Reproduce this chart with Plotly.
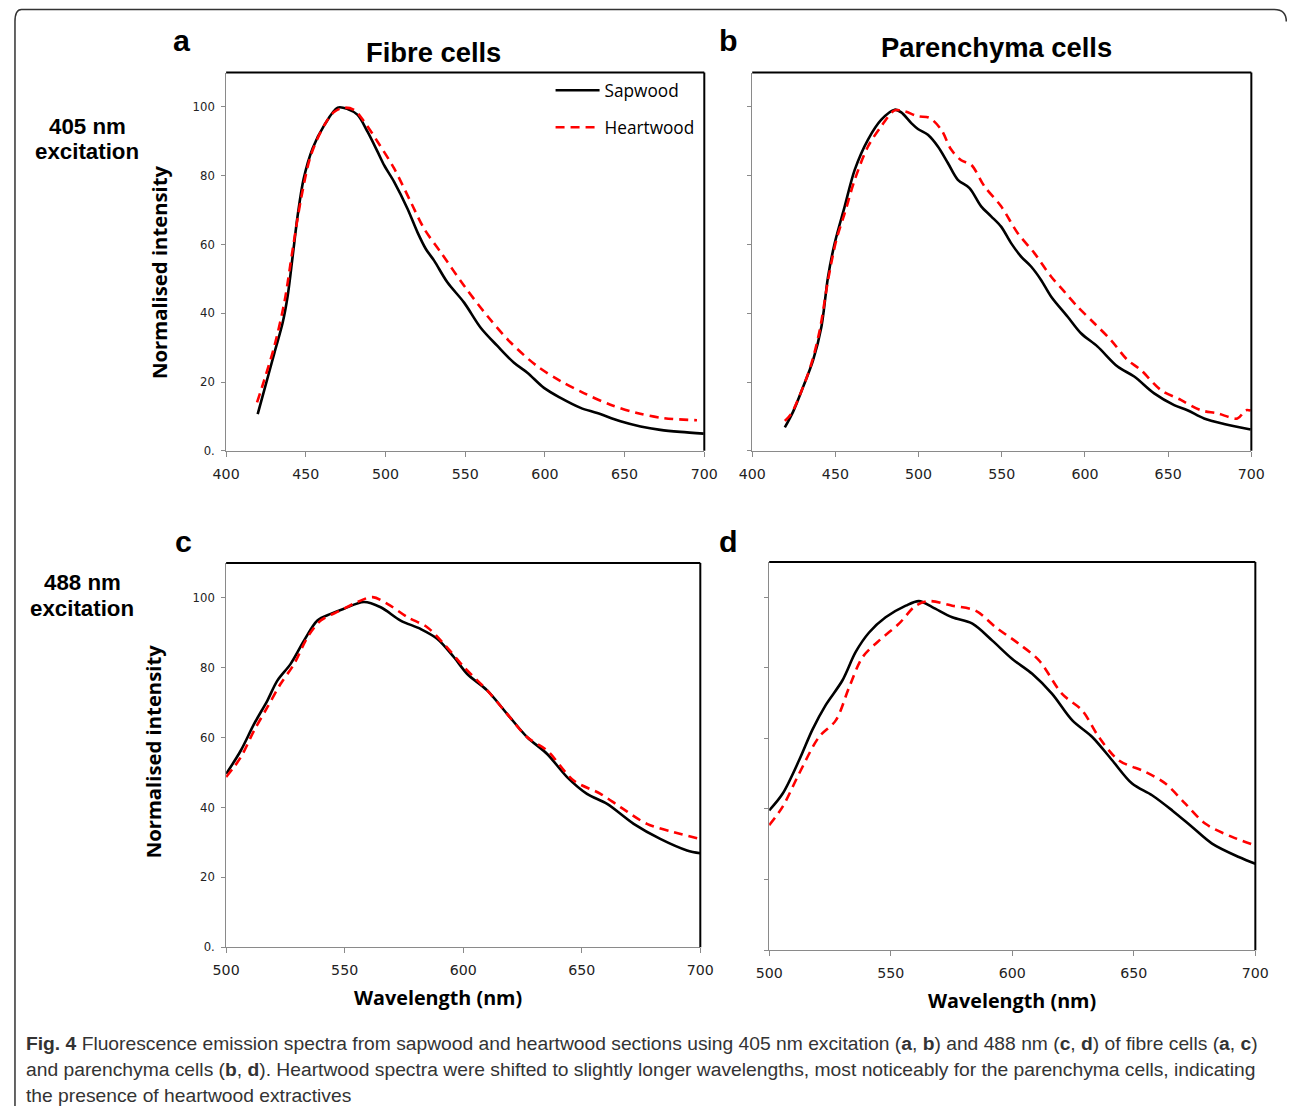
import plotly.graph_objects as go

W, H = 1290, 1113

# ---------------- data ----------------
# Panel a: 405 nm excitation, fibre cells
a_sap_wl = [419.8, 424, 430.3, 435.5, 438.6, 441.8, 444.9, 448.6, 454.3, 461.6, 470, 476.2, 482.5, 488.7, 495,
            499.2, 505.4, 513.8, 520, 525.3, 530.5, 538.8, 549.3, 559.7, 570.2, 580.6, 589, 599.4, 609.8, 622.4,
            632.8, 647.4, 660, 672.4, 685, 699.6]
a_sap_int = [10.7, 17.8, 28.5, 37.3, 45, 56.8, 68.5, 79, 88, 94.7, 99.8, 99.4, 97.7, 92.8, 87,
             83, 78.2, 70.4, 63.6, 58.7, 55.3, 49, 43.1, 35.8, 30.5, 25.6, 22.7, 18.3, 15.4, 12.5,
             11, 8.6, 7.1, 6.1, 5.5, 5.0]
a_hw_wl = [419.4, 424, 430.3, 436.5, 441.8, 447, 453.2, 461.6, 467.9, 474.1, 480.4, 486.6, 495, 505.4, 515.9,
           524.2, 534.7, 549.3, 563.9, 578.5, 595.2, 609.8, 624.4, 641.1, 657.8, 674.5, 695.4]
a_hw_int = [14.1, 20.7, 30.5, 43.1, 58.7, 73.3, 86, 94.7, 98.6, 99.8, 99.1, 95.7, 89.9, 82.1, 72.3,
            64.6, 57.7, 48, 39.2, 31.5, 24.6, 20.3, 16.8, 13.4, 11, 9.5, 8.9]

# Panel b: 405 nm excitation, parenchyma cells
b_sap_wl = [419.6, 424.6, 430.6, 436.6, 441.6, 445.6, 449.6, 455.6, 461.6, 469.6, 477.6, 485.6, 489.6, 495.6,
            499.6, 505.6, 511.6, 517.6, 523.6, 530.6, 537.6, 543.6, 549.6, 555.6, 561.6, 567.6, 573.6, 579.6,
            589.6, 597.6, 607.6, 619.6, 629.6, 641.6, 653.6, 661.6, 671.6, 683.6, 699.6]
b_sap_int = [6.8, 11.4, 18.6, 26.4, 36.1, 50.7, 60.4, 71.1, 81.7, 90.5, 96.3, 99.2, 98.4, 95.3,
             93.6, 91.9, 88.5, 83.7, 78.8, 76.4, 71.1, 68.2, 65.2, 60.4, 56.5, 53.6, 49.7, 44.9,
             39, 34.2, 30.3, 24.5, 21.6, 16.7, 13.3, 11.8, 9.4, 7.8, 6.2]
b_hw_wl = [419.6, 423.6, 430.6, 435.6, 440.6, 445.6, 450.6, 455.6, 461.6, 469.6, 477.6, 485.6, 491.6, 499.6,
           506.6, 513.6, 519.6, 525.6, 531.6, 539.6, 549.6, 559.6, 569.6, 579.6, 587.6, 595.6, 605.6, 615.6,
           625.6, 633.6, 645.6, 657.6, 669.6, 679.6, 691.6, 696.6, 699.6]
b_hw_int = [8.7, 10.9, 18.6, 25.4, 35.1, 49.7, 61.4, 69.1, 78.8, 88.5, 94.4, 99, 98.7, 97.3,
            96.8, 93.4, 87.6, 84.5, 83.2, 76.9, 71.1, 63.3, 57.5, 50.7, 46.3, 41.9, 37.1, 32.2,
            26.4, 23.5, 17.7, 14.8, 11.8, 10.9, 9.4, 11.8, 11.7]

# Panel c: 488 nm excitation, fibre cells
c_sap_wl = [500, 506.2, 511.8, 517.4, 521.6, 527.2, 532.9, 538.5, 544.1, 549.7, 558.1, 565.2, 573.6, 582,
            589, 596.1, 601.7, 610.1, 618.5, 627, 635.4, 643.8, 652.2, 660.7, 671.9, 683.1, 694.4, 700]
c_sap_int = [49.6, 56.3, 63.9, 70.6, 76.3, 81.1, 87.8, 93.5, 95.4, 96.9, 98.8, 97.3, 93.5, 91.1,
             88.3, 83, 78.2, 73.5, 66.8, 60.1, 55.3, 48.7, 43.9, 41, 35.3, 31, 27.7, 26.9]
c_hw_wl = [500, 506.2, 511.8, 517.4, 523, 528.7, 534.3, 539.9, 548.3, 555.3, 561.8, 568, 576.4, 584.8,
           591.9, 600.3, 610.1, 618.5, 627, 635.4, 646.6, 657.9, 666.3, 677.5, 688.8, 700]
c_hw_int = [48.7, 54.4, 62, 68.7, 75.4, 81.1, 88.7, 93.5, 96.4, 98.8, 100.2, 98.3, 94.5, 91.6,
            86.8, 80.2, 73.5, 66.8, 60.1, 56.3, 47.7, 43.9, 40.1, 35.3, 32.9, 31]

# Panel d: 488 nm excitation, parenchyma cells
d_sap_wl = [500, 505.5, 512.3, 517.8, 523.3, 530.1, 535.6, 541.1, 547.9, 556.2, 561.6, 567.1, 575.3, 583.6,
            591.8, 600, 608.2, 616.4, 624.7, 632.9, 641.1, 649.3, 657.5, 665.8, 674, 682.2, 693.2, 700]
d_sap_int = [39.6, 44.3, 53.8, 62.5, 69.5, 76.4, 84.5, 90.0, 94.3, 97.6, 98.9, 97.2, 94.3, 92.5,
             87.7, 82.5, 78.3, 72.6, 65.1, 60.4, 53.8, 47.2, 43.9, 39.6, 34.9, 30.2, 26.4, 24.5]
d_hw_wl = [500, 505.5, 512.3, 520.5, 527.4, 532.9, 538.4, 545.2, 553.4, 560.3, 565.8, 575.3, 584.9, 593.2,
           602.7, 611, 620.5, 628.8, 635.6, 643.8, 654.8, 663, 671.2, 679.5, 690.4, 700]
d_hw_int = [35.4, 40.6, 50, 60.4, 65.1, 74.5, 83, 87.7, 92.5, 97.6, 98.9, 97.6, 96.2, 91.5,
            86.8, 82.1, 72.6, 67.9, 60.4, 53.8, 50.5, 47.2, 41.5, 35.8, 32.1, 29.7]

series_names = ["Sapwood", "Heartwood"]
y_tick_vals = [0, 20, 40, 60, 80, 100]
y_tick_text = ["0.", "20", "40", "60", "80", "100"]
x_ticks_405 = [400, 450, 500, 550, 600, 650, 700]
x_ticks_488 = [500, 550, 600, 650, 700]

panel_titles = ["Fibre cells", "Parenchyma cells"]
panel_letters = ["a", "b", "c", "d"]
row_labels = [("405 nm", "excitation"), ("488 nm", "excitation")]
y_title = "Normalised intensity"
x_title = "Wavelength (nm)"
caption_lines = [
    "<b>Fig. 4</b> Fluorescence emission spectra from sapwood and heartwood sections using 405 nm excitation "
    "(<b>a</b>, <b>b</b>) and 488 nm (<b>c</b>, <b>d</b>) of fibre cells (<b>a</b>, <b>c</b>)",
    "and parenchyma cells (<b>b</b>, <b>d</b>). Heartwood spectra were shifted to slightly longer wavelengths, "
    "most noticeably for the parenchyma cells, indicating",
    "the presence of heartwood extractives",
]

# ---------------- helpers ----------------
# The photographed page maps a figure pixel (x, y) to about (0.98 x + 12.5, 0.993 y + 0.5);
# invert that so the final picture lands on the reference pixel positions.
SX, OX = 0.98, 12.5
SY, OY = 0.993, 0.5
SF = (SX + SY) / 2

def px(x):
    return ((x - OX) / SX) / W

def py(y):
    return 1 - ((y - OY) / SY) / H

def fs(size):
    return size / SF

SAP_LINE = dict(color="black", width=2.6, shape="spline", smoothing=0.9)
HW_LINE = dict(color="#ff0000", width=2.6, dash="9px,6px", shape="spline", smoothing=0.9)

fig = go.Figure()

panels = [
    ("x", "y", a_sap_wl, a_sap_int, a_hw_wl, a_hw_int),
    ("x2", "y2", b_sap_wl, b_sap_int, b_hw_wl, b_hw_int),
    ("x3", "y3", c_sap_wl, c_sap_int, c_hw_wl, c_hw_int),
    ("x4", "y4", d_sap_wl, d_sap_int, d_hw_wl, d_hw_int),
]
for i, (xa, ya, sx, sy, hx, hy) in enumerate(panels):
    fig.add_trace(go.Scatter(x=sx, y=sy, mode="lines", line=SAP_LINE, name=series_names[0],
                             xaxis=xa, yaxis=ya, showlegend=(i == 0), legend="legend"))
    fig.add_trace(go.Scatter(x=hx, y=hy, mode="lines", line=HW_LINE, name=series_names[1],
                             xaxis=xa, yaxis=ya, showlegend=(i == 0), legend="legend2"))

AX_COLOR = "#8a8a8a"
XTICK_FONT = dict(family="DejaVu Sans", size=fs(14), color="#222")
YTICK_FONT = dict(family="DejaVu Sans", size=fs(11.5), color="#222")

def xaxis(domain, rng, ticks, anchor):
    return dict(domain=domain, range=rng, tickvals=ticks, ticktext=[str(t) for t in ticks],
                showline=True, linecolor=AX_COLOR, linewidth=1, ticks="outside", ticklen=5,
                tickcolor=AX_COLOR, tickwidth=1, showgrid=False, zeroline=False, anchor=anchor,
                tickfont=XTICK_FONT, ticklabelstandoff=5, fixedrange=True)

def yaxis(domain, anchor, labels=True):
    return dict(domain=domain, range=[0, 110], tickvals=y_tick_vals,
                ticktext=y_tick_text if labels else [""] * len(y_tick_vals),
                showline=True, linecolor=AX_COLOR, linewidth=1, ticks="outside", ticklen=4,
                tickcolor=AX_COLOR, tickwidth=1, showgrid=False, zeroline=False, anchor=anchor,
                tickfont=YTICK_FONT, ticklabelstandoff=4, fixedrange=True)

top_dom = [py(451), py(73)]
fig.update_layout(
    xaxis=xaxis([px(225), px(704)], [400, 700], x_ticks_405, "y"),
    yaxis=yaxis(top_dom, "x"),
    xaxis2=xaxis([px(752), px(1252)], [400, 700], x_ticks_405, "y2"),
    yaxis2=yaxis(top_dom, "x2", labels=False),
    xaxis3=xaxis([px(225), px(700)], [500, 700], x_ticks_488, "y3"),
    yaxis3=yaxis([py(947), py(563)], "x3"),
    xaxis4=xaxis([px(769), px(1256)], [500, 700], x_ticks_488, "y4"),
    yaxis4=yaxis([py(950), py(562)], "x4", labels=False),
)

# black top and right frame of each plot box
shapes = []
for xa, ya in [("x", "y"), ("x2", "y2"), ("x3", "y3"), ("x4", "y4")]:
    shapes.append(dict(type="line", xref=f"{xa} domain", yref=f"{ya} domain", x0=0, x1=1, y0=1, y1=1,
                       line=dict(color="black", width=2)))
    shapes.append(dict(type="line", xref=f"{xa} domain", yref=f"{ya} domain", x0=1, x1=1, y0=0, y1=1,
                       line=dict(color="black", width=2)))

# outer rounded frame of the figure
r = 12
fx0 = max(px(8), 1.0 / W)
fy0 = py(10)
fx1 = px(1287)
path = (f"M {fx0},0 L {fx0},{py(10 + r)} Q {fx0},{fy0} {px(8 + r)},{fy0} "
        f"L {px(1287 - r)},{fy0} Q {fx1},{fy0} {fx1},{py(10 + r)}")
shapes.append(dict(type="path", xref="paper", yref="paper", path=path, line=dict(color="#333", width=1.5)))
fig.update_layout(shapes=shapes)

ann = []
def add_text(text, x, y, size, family="Liberation Sans", bold=False, angle=0, xanchor="center",
             color="black"):
    ann.append(dict(text=f"<b>{text}</b>" if bold else text, x=px(x), y=py(y), xref="paper", yref="paper",
                    showarrow=False, xanchor=xanchor, yanchor="middle", textangle=angle,
                    font=dict(family=family, size=fs(size), color=color)))

NARROW = "Liberation Sans Narrow, Liberation Sans, Arial"
for letter, (lx, ly) in zip(panel_letters, [(181, 40), (728, 40), (182, 541), (728, 541)]):
    add_text(letter, lx, ly, 30, family="Liberation Sans", bold=True)
add_text(panel_titles[0], 433, 53, 27, family=NARROW, bold=True)
add_text(panel_titles[1], 997, 48, 27, family=NARROW, bold=True)
add_text(row_labels[0][0], 86, 127, 22, family=NARROW, bold=True)
add_text(row_labels[0][1], 86, 152, 22, family=NARROW, bold=True)
add_text(row_labels[1][0], 81, 583, 22, family=NARROW, bold=True)
add_text(row_labels[1][1], 81, 609, 22, family=NARROW, bold=True)
add_text(y_title, 157, 272, 20, family="Open Sans", bold=True, angle=-90)
add_text(y_title, 152, 751, 20, family="Open Sans", bold=True, angle=-90)
add_text(x_title, 437, 997, 19.5, family="Open Sans", bold=True)
add_text(x_title, 1012, 1000, 19.5, family="Open Sans", bold=True)
for line, cy in zip(caption_lines, [1043, 1069, 1095]):
    add_text(line, 23, cy, 19, family=NARROW, xanchor="left", color="#333")
fig.update_layout(annotations=ann)

LEG_FONT = dict(family="Open Sans", size=fs(17), color="black")
fig.update_layout(
    legend=dict(x=px(550), y=py(91), xanchor="left", yanchor="middle", bgcolor="rgba(0,0,0,0)",
                borderwidth=0, font=LEG_FONT, itemwidth=44, itemclick=False, itemdoubleclick=False),
    legend2=dict(x=px(550), y=py(128), xanchor="left", yanchor="middle", bgcolor="rgba(0,0,0,0)",
                 borderwidth=0, font=LEG_FONT, itemwidth=44, itemclick=False, itemdoubleclick=False),
)

fig.update_layout(width=W, height=H, margin=dict(l=0, r=0, t=0, b=0),
                  paper_bgcolor="white", plot_bgcolor="white")

fig.write_html("out.html", config={"displayModeBar": False},
               post_script="document.body.style.margin='0px';document.body.style.overflow='hidden';")
